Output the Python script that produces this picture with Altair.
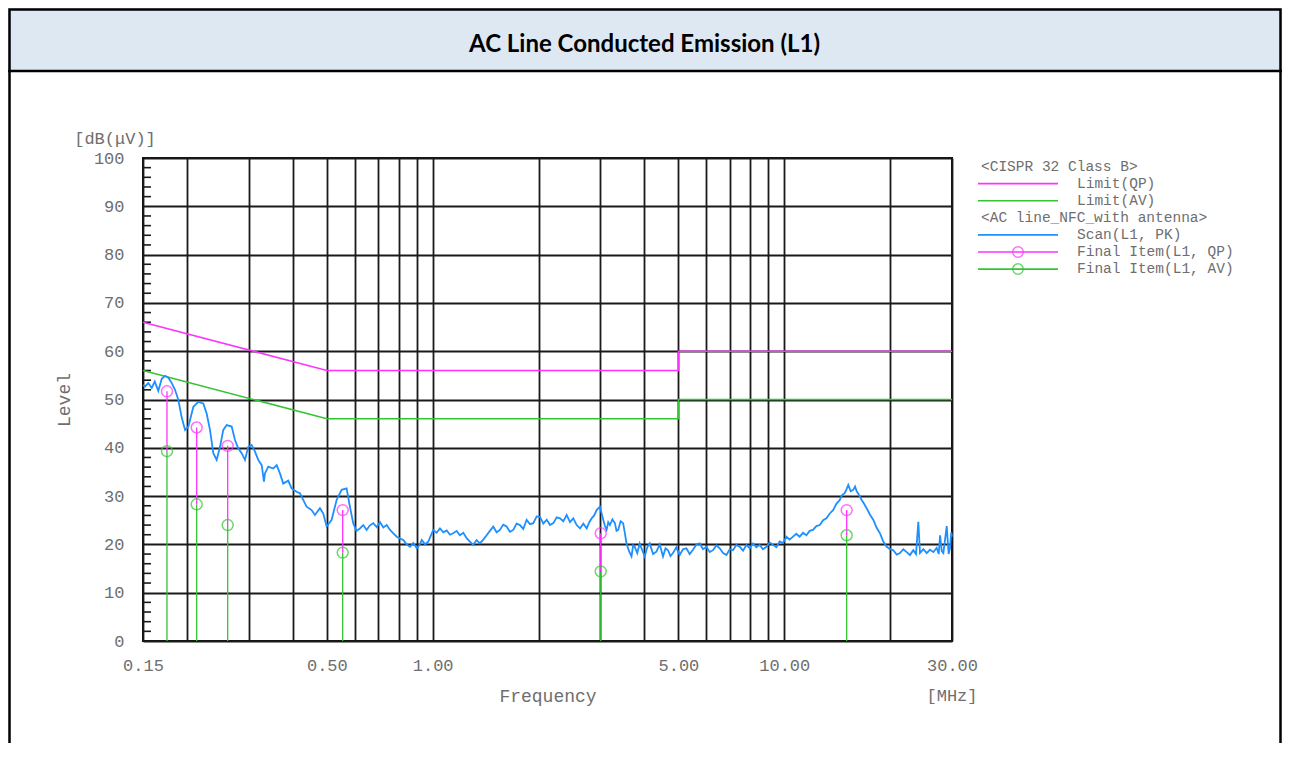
import altair as alt
import pandas as pd

# ---------------- data ----------------
# Scan (L1, PK) trace: frequency [MHz] and level [dB(uV)]
scan_freq = [0.150, 0.152, 0.1553, 0.1588, 0.1620, 0.1658, 0.1696, 0.1733, 0.1771, 0.1811,
             0.1850, 0.1891, 0.1934, 0.1976, 0.2019, 0.2086, 0.2154, 0.2226, 0.2276, 0.2326,
             0.2377, 0.2430, 0.2484, 0.2538, 0.2595, 0.2681, 0.2740, 0.2799, 0.2862, 0.2925,
             0.2989, 0.3056, 0.3123, 0.3191, 0.3263, 0.3312, 0.3334, 0.3407, 0.3520, 0.3600,
             0.3678, 0.3758, 0.3883, 0.3970, 0.4102, 0.4192, 0.4283, 0.4380, 0.4526, 0.4625,
             0.4779, 0.4884, 0.4994, 0.5160, 0.5331, 0.5508, 0.5692, 0.5816,
             0.5943, 0.607, 0.6210, 0.635, 0.6488, 0.662, 0.6776, 0.693, 0.7082, 0.724,
             0.7401, 0.7563, 0.773, 0.7903, 0.808, 0.8251, 0.843, 0.8624, 0.881, 0.9010,
             0.916, 0.9311, 0.952, 0.9721, 0.988, 1.004, 1.026, 1.049, 1.072, 1.096,
             1.120, 1.144, 1.170, 1.195, 1.222, 1.249, 1.276, 1.304, 1.333, 1.363,
             1.393, 1.424, 1.455, 1.487, 1.520, 1.553, 1.588, 1.623, 1.659, 1.695,
             1.733, 1.771, 1.810, 1.850, 1.891, 1.933, 1.976, 2.019, 2.064, 2.110,
             2.157, 2.204, 2.253, 2.302, 2.353, 2.405, 2.458, 2.512, 2.568, 2.625,
             2.683, 2.742, 2.790, 2.833, 2.880, 2.926, 2.991, 3.056, 3.090, 3.124,
             3.158, 3.192, 3.245, 3.298, 3.334, 3.370, 3.425, 3.481, 3.520, 3.559,
             3.618, 3.677, 3.717, 3.757, 3.818, 3.881, 3.945, 4.010, 4.076, 4.143,
             4.235, 4.328, 4.424, 4.520, 4.595, 4.670, 4.747, 4.825, 4.932, 5.041,
             5.153, 5.267, 5.383, 5.501, 5.623, 5.747, 5.875, 6.005, 6.137, 6.271,
             6.410, 6.553, 6.698, 6.847, 6.997, 7.150, 7.308, 7.470, 7.636, 7.805,
             7.977, 8.150, 8.330, 8.514, 8.703, 8.896, 9.092, 9.290, 9.496, 9.706,
             9.920, 10.14, 10.36, 10.59, 10.82, 11.06, 11.31, 11.56, 11.81, 12.07,
             12.34, 12.62, 12.90, 13.18, 13.47, 13.77, 14.07, 14.38, 14.60, 14.85,
             15.03, 15.21, 15.45, 15.71, 15.90, 16.07, 16.33, 16.60, 16.87, 17.15,
             17.52, 17.91, 18.30, 18.72, 19.13, 19.56, 20.00, 20.43, 20.88, 21.34,
             21.81, 22.30, 22.78, 23.28, 23.70, 24.06, 24.33, 24.87, 25.42, 25.98,
             26.55, 27.14, 27.50, 27.75, 28.05, 28.35, 28.98, 29.34, 29.61, 29.85,
             30.0]
scan_level = [53.0, 52.7, 53.4, 52.4, 53.7, 51.8, 54.3, 54.9, 54.5, 53.4,
              52.0, 49.9, 46.2, 43.7, 44.4, 48.5, 49.5, 49.2, 47.1, 43.7,
              38.9, 37.5, 40.2, 43.7, 44.7, 44.4, 41.6, 39.9, 38.9, 37.5,
              40.2, 40.6, 39.2, 37.5, 36.4, 33.0, 34.7, 36.1, 35.7, 36.4,
              34.7, 32.6, 33.2, 31.6, 30.9, 30.6, 29.2, 27.8, 27.1, 26.1,
              27.5, 26.4, 23.7, 25.1, 29.2, 31.3, 31.6, 27.8,
              24.4, 22.8, 23.3, 24.0, 23.0, 23.9, 24.4, 23.6, 24.6, 23.5,
              24.0, 23.0, 22.3, 21.6, 21.2, 20.9, 20.0, 19.5, 20.3, 19.2,
              19.8, 20.9, 20.0, 20.6, 21.8, 23.0, 22.4, 23.3, 22.5, 22.9,
              22.0, 22.3, 22.8, 21.9, 22.4, 21.3, 20.6, 19.9, 20.9, 20.2,
              21.0, 21.9, 22.8, 23.7, 22.5, 23.0, 24.1, 23.7, 22.6, 23.0,
              24.3, 24.0, 23.2, 25.1, 24.2, 24.4, 25.8, 25.7, 24.3, 25.1,
              24.0, 24.4, 25.6, 25.4, 24.8, 26.1, 24.6, 25.4, 24.0, 23.3,
              24.3, 23.3, 24.6, 25.4, 26.0, 27.1, 27.8, 25.1, 23.8, 23.0,
              24.6, 24.0, 25.2, 24.4, 22.8, 23.0, 24.8, 24.4, 22.4, 20.2,
              18.6, 17.5, 19.8, 19.5, 18.2, 20.2, 18.8, 17.5, 19.4, 20.2,
              18.0, 18.5, 20.0, 17.5, 19.2, 18.8, 17.6, 18.2, 19.4, 17.8,
              19.0, 19.2, 18.0, 18.9, 20.0, 20.2, 19.0, 19.5, 18.4, 18.8,
              19.8, 19.2, 18.2, 17.8, 19.0, 18.8, 19.9, 19.5, 18.7, 19.9,
              19.2, 20.2, 19.4, 19.9, 19.0, 19.5, 20.4, 19.9, 19.4, 20.6,
              20.3, 21.6, 21.0, 21.6, 22.2, 21.6, 22.4, 21.9, 22.8, 23.0,
              23.8, 24.0, 25.0, 25.4, 26.4, 27.1, 28.4, 29.2, 30.2, 30.6,
              31.4, 32.3, 31.0, 31.3, 32.0, 31.0, 30.2, 29.2, 28.4, 27.5,
              26.2, 25.1, 23.5, 22.3, 20.6, 19.5, 19.0, 18.8, 17.9, 18.2,
              19.0, 18.4, 17.8, 18.8, 18.0, 24.7, 18.2, 19.0, 18.2, 18.9,
              18.4, 19.3, 18.0, 21.9, 18.6, 18.2, 23.8, 18.0, 19.2, 22.5,
              21.6]

# CISPR 32 Class B limits
limit_freq = [0.15, 0.5, 5.0, 5.0, 30.0]
limit_qp = [66, 56, 56, 60, 60]
limit_av = [56, 46, 46, 50, 50]

# Final items
final_freq = [0.1755, 0.2132, 0.2612, 0.5547, 3.006, 15.05]
final_qp = [51.7, 44.2, 40.4, 27.1, 22.3, 27.1]
final_av = [39.3, 28.3, 24.0, 18.3, 14.4, 21.9]

# axes
x_grid = [0.15, 0.2, 0.3, 0.4, 0.5, 0.6, 0.7, 0.8, 0.9, 1, 2, 3, 4, 5, 6, 7, 8, 9, 10, 20, 30]
x_labels = [0.15, 0.5, 1, 5, 10, 30]
y_ticks = [0, 10, 20, 30, 40, 50, 60, 70, 80, 90, 100]
y_minor = [2, 4, 6, 8, 12, 14, 16, 18, 22, 24, 26, 28, 32, 34, 36, 38, 42, 44, 46, 48,
           52, 54, 56, 58, 62, 64, 66, 68, 72, 74, 76, 78, 82, 84, 86, 88, 92, 94, 96, 98]

legend_items = ["<CISPR 32 Class B>", "Limit(QP)", "Limit(AV)", "<AC line_NFC_with antenna>",
                "Scan(L1, PK)", "Final Item(L1, QP)", "Final Item(L1, AV)"]

# ---------------- styles ----------------
MONO = "Liberation Mono"
GREY = "#6e6e6e"
MAGENTA = "#ff33ff"
GREEN = "#33c433"
BLUE = "#1e8fff"
GRID = "#1a1a1a"
W, H = 809, 483

label_list = "[" + ",".join(str(v) for v in x_labels) + "]"
x_axis = alt.Axis(values=x_grid, grid=True, gridColor=GRID, gridWidth=1.8, domain=False, ticks=False,
                  labelExpr=f"indexof({label_list}, datum.value) >= 0 ? format(datum.value, '.2f') : ''",
                  labelFont=MONO, labelFontSize=17, labelColor=GREY, labelPadding=16,
                  labelOverlap=False, labelFlush=False, labelBound=False,
                  titleFont=MONO, titleFontSize=18, titleColor=GREY, titleFontWeight="normal",
                  titlePadding=14)
y_axis = alt.Axis(values=y_ticks, grid=True, gridColor=GRID, gridWidth=1.8, domain=False, ticks=False,
                  labelFont=MONO, labelFontSize=17, labelColor=GREY, labelPadding=19,
                  labelOverlap=False, labelFlush=False,
                  titleFont=MONO, titleFontSize=18, titleColor=GREY, titleFontWeight="normal",
                  titlePadding=20)
x_scale = alt.Scale(type="log", domain=[0.15, 30], nice=False)
y_scale = alt.Scale(domain=[0, 100], nice=False)

X = alt.X("freq:Q", scale=x_scale, axis=x_axis, title="Frequency")
Y = alt.Y("level:Q", scale=y_scale, axis=y_axis, title="Level")
Y_AV = alt.Y("av:Q", scale=y_scale, axis=y_axis, title="Level")

scan_df = pd.DataFrame({"freq": scan_freq, "level": scan_level})
qp_df = pd.DataFrame({"freq": limit_freq, "level": limit_qp, "idx": list(range(len(limit_freq)))})
av_df = pd.DataFrame({"freq": limit_freq, "level": limit_av, "idx": list(range(len(limit_freq)))})
fin_df = pd.DataFrame({"freq": final_freq, "level": final_qp, "av": final_av})
minor_df = pd.DataFrame({"level": y_minor})
one = pd.DataFrame({"a": [0]})

layers = []

# ---- document frame / header (decoration) ----
layers.append(alt.Chart(one).mark_rect(fill="#dde8f3").encode(
    x=alt.value(-135), x2=alt.value(1139), y=alt.value(-150), y2=alt.value(-87)))
layers.append(alt.Chart(one).mark_rect(fillOpacity=0, stroke="black", strokeWidth=2.5).encode(
    x=alt.value(-133.5), x2=alt.value(1137.5), y=alt.value(-148.5), y2=alt.value(700)))
layers.append(alt.Chart(one).mark_rule(color="black", strokeWidth=2.5).encode(
    x=alt.value(-135), x2=alt.value(1139), y=alt.value(-87)))
layers.append(alt.Chart(one).mark_text(text="AC Line Conducted Emission (L1)", font="Lato",
                                       fontSize=24, fontWeight="bold", color="black",
                                       align="center", baseline="middle").encode(
    x=alt.value(501.5), y=alt.value(-113)))

# ---- plot ----
layers.append(alt.Chart(minor_df).mark_rule(color=GRID, strokeWidth=1.6).encode(
    y=Y, x=alt.value(0), x2=alt.value(8)))
layers.append(alt.Chart(qp_df).mark_line(color=MAGENTA, strokeWidth=1.6).encode(x=X, y=Y, order="idx:Q"))
layers.append(alt.Chart(av_df).mark_line(color=GREEN, strokeWidth=1.6).encode(x=X, y=Y, order="idx:Q"))
layers.append(alt.Chart(scan_df).mark_line(color=BLUE, strokeWidth=1.8).encode(x=X, y=Y))
layers.append(alt.Chart(fin_df).mark_rule(color=GREEN, strokeWidth=1.3).encode(
    x=X, y=Y_AV, y2=alt.datum(0)))
layers.append(alt.Chart(fin_df).mark_rule(color=MAGENTA, strokeWidth=1.3).encode(
    x=X, y=Y, y2="av:Q"))
layers.append(alt.Chart(fin_df).mark_point(shape="circle", filled=False, size=120, color=GREEN,
                                           strokeWidth=1.5).encode(x=X, y=Y_AV))
layers.append(alt.Chart(fin_df).mark_point(shape="circle", filled=False, size=120, color=MAGENTA,
                                           strokeWidth=1.5).encode(x=X, y=Y))

# unit labels
layers.append(alt.Chart(one).mark_text(text="[MHz]", font=MONO, fontSize=17, color=GREY,
                                       align="center", baseline="middle").encode(
    x=alt.value(809), y=alt.value(538)))
layers.append(alt.Chart(one).mark_text(text="[dB(μV)]", font=MONO, fontSize=17, color=GREY,
                                       align="center", baseline="middle").encode(
    x=alt.value(-28), y=alt.value(-19)))

# ---- legend ----
leg_colors = [None, MAGENTA, GREEN, None, BLUE, MAGENTA, GREEN]
leg_marker = [False, False, False, False, False, True, True]
for i, (lab, col, mk) in enumerate(zip(legend_items, leg_colors, leg_marker)):
    yy = 8.5 + 17.1 * i
    if col is None:
        layers.append(alt.Chart(one).mark_text(text=lab, font=MONO, fontSize=14.5, color=GREY,
                                               align="left", baseline="middle").encode(
            x=alt.value(838), y=alt.value(yy)))
    else:
        layers.append(alt.Chart(one).mark_rule(color=col, strokeWidth=1.6).encode(
            x=alt.value(835), x2=alt.value(915), y=alt.value(yy)))
        if mk:
            layers.append(alt.Chart(one).mark_point(shape="circle", filled=False, size=110, color=col,
                                                   strokeWidth=1.5).encode(
                x=alt.value(875), y=alt.value(yy)))
        layers.append(alt.Chart(one).mark_text(text=lab, font=MONO, fontSize=14.5, color=GREY,
                                               align="left", baseline="middle").encode(
            x=alt.value(934), y=alt.value(yy)))

chart = alt.layer(*layers).properties(
    width=W, height=H,
    autosize=alt.AutoSizeParams(type="none"),
    padding={"left": 135, "top": 150, "right": 330, "bottom": 102},
    background="white",
).configure_view(stroke="#111111", strokeWidth=2)

chart.save("out.html", embed_options={"renderer": "svg", "actions": False})
